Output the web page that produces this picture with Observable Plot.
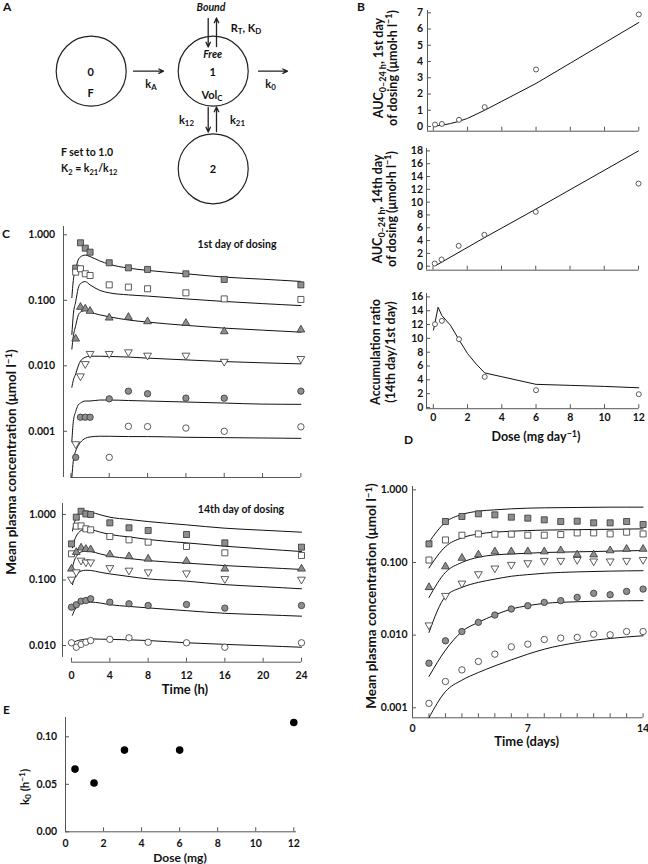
<!DOCTYPE html>
<html><head><meta charset="utf-8">
<script src="https://cdn.jsdelivr.net/npm/d3@7"></script>
<script src="https://cdn.jsdelivr.net/npm/@observablehq/plot@0.6"></script>
<style>
body{margin:0;background:#fff;}
#fig{position:relative;width:648px;height:864px;overflow:hidden;font-family:Lato,"Open Sans",sans-serif;font-weight:700;color:#111;background:#fff;}
.lbl{position:absolute;white-space:nowrap;line-height:1;}
.panel{position:absolute;}
.lbl sub{font-size:72%;position:relative;top:0.3em;vertical-align:baseline;line-height:0;}
.lbl sup{font-size:72%;position:relative;top:-0.45em;vertical-align:baseline;line-height:0;}
</style></head><body><div id="fig"></div><script>
// ---------------- DATA ----------------
// Panel A: compartment diagram
const diagramNodes = [{id:"0", x:90.7, y:70.7}, {id:"1", x:212.7, y:70.7}, {id:"2", x:212.7, y:168.3}];
const diagramArrows = [
  {x1:133, y1:70.7, x2:163, y2:70.7},
  {x1:258, y1:70.7, x2:287, y2:70.7},
  {x1:207.7, y1:18, x2:207.7, y2:46.5},
  {x1:216, y1:46, x2:216, y2:17.5},
  {x1:207.7, y1:107, x2:207.7, y2:131.5},
  {x1:216, y1:131, x2:216, y2:106.5}
];
// Panel B
const doseB = [0.1, 0.5, 1.5, 3, 6, 12];
const auc1 = [0.12, 0.16, 0.41, 1.19, 3.51, 6.9];
const auc14 = [0.42, 1.04, 3.18, 4.9, 8.48, 12.9];
const accRatio = [12.05, 12.53, 9.88, 4.43, 2.5, 1.92];
const fitDoseAuc1 = [0.05, 0.5, 1, 1.5, 2, 3, 4, 5, 6, 8, 10, 12];
const fitAuc1 = [0.02, 0.08, 0.18, 0.32, 0.5, 1.0, 1.55, 2.1, 2.65, 3.9, 5.15, 6.4];
const fitDoseAuc14 = [0.2, 3, 6, 12];
const fitAuc14 = [0.16, 4.45, 8.9, 18.0];
const fitDoseRatio = [0.01, 0.28, 0.5, 1, 1.5, 2, 2.5, 3, 4, 5, 6, 8, 10, 12];
const fitRatio = [11.2, 14.5, 13.3, 11.9, 9.8, 7.8, 6.3, 5.0, 4.45, 3.9, 3.35, 3.2, 3.05, 2.85];
// Panel C (six dose groups: 12, 6, 3, 1.5, 0.5, 0.1 mg)
const groups = ["12 mg", "6 mg", "3 mg", "1.5 mg", "0.5 mg", "0.1 mg"];
const tDay1 = [0.5, 1, 1.5, 2, 4, 6, 8, 12, 16, 24];
const tDay14 = [0, 0.5, 1, 1.5, 2, 4, 6, 8, 12, 16, 24];
const tFit = [0.1, 0.25, 0.5, 0.75, 1, 1.5, 2, 3, 4, 6, 8, 12, 16, 20, 24];
const obsDay1 = [
  [0.31, 0.755, 0.625, 0.543, 0.374, 0.313, 0.296, 0.254, 0.208, 0.172],
  [0.269, 0.303, 0.254, 0.239, 0.172, 0.159, 0.150, 0.130, 0.105, 0.103],
  [0.0258, 0.0787, 0.0742, 0.0684, 0.054, 0.0553, 0.0475, 0.0448, 0.0334, 0.0355],
  [0.00064, 0.00695, 0.0107, 0.0153, 0.0153, 0.0162, 0.0144, 0.0144, 0.0116, 0.0128],
  [0.0004, 0.00164, 0.00164, 0.00164, 0.00313, 0.0041, 0.00374, 0.00321, 0.0032, 0.0041],
  [null, null, null, null, 0.0004, 0.00119, 0.00118, 0.00112, 0.0010, 0.00117]
];
const fitDay1 = [
  [0.11, 0.2, 0.30, 0.41, 0.46, 0.49, 0.465, 0.40, 0.355, 0.31, 0.286, 0.254, 0.226, 0.21, 0.194],
  [0.03, 0.06, 0.095, 0.15, 0.18, 0.193, 0.172, 0.142, 0.13, 0.121, 0.116, 0.105, 0.096, 0.089, 0.083],
  [0.018, 0.028, 0.041, 0.058, 0.066, 0.07, 0.066, 0.06, 0.056, 0.05, 0.0465, 0.0414, 0.0376, 0.035, 0.0326],
  [0.0047, 0.006, 0.0075, 0.0098, 0.0118, 0.0135, 0.014, 0.014, 0.0139, 0.0136, 0.0131, 0.0123, 0.0116, 0.0111, 0.0107],
  [0.0007, 0.0014, 0.002, 0.0025, 0.0027, 0.0029, 0.0029, 0.003, 0.003, 0.00295, 0.0029, 0.0028, 0.0027, 0.0026, 0.00258],
  [0.0002, 0.00035, 0.0005, 0.0006, 0.00068, 0.00078, 0.00082, 0.00084, 0.00084, 0.00083, 0.00083, 0.00081, 0.0008, 0.00079, 0.00078]
];
const obsDay14 = [
  [0.356, 0.91, 1.12, 1.02, 1.0, 0.746, 0.626, 0.57, 0.495, 0.369, 0.317],
  [0.251, 0.664, 0.671, 0.604, 0.583, 0.461, 0.41, 0.378, 0.325, 0.26, 0.237],
  [0.148, 0.266, 0.31, 0.296, 0.292, 0.245, 0.229, 0.21, 0.194, 0.148, 0.148],
  [0.102, 0.132, 0.199, 0.187, 0.187, 0.153, 0.14, 0.132, 0.127, 0.104, 0.102],
  [0.0385, 0.0418, 0.0475, 0.0486, 0.0516, 0.0459, 0.0433, 0.0408, 0.0423, 0.0372, 0.0408],
  [0.011, 0.0094, 0.0104, 0.0112, 0.0119, 0.0124, 0.0131, 0.0112, 0.011, 0.0094, 0.011]
];
const fitDay14 = [
  [0.56, 0.7, 0.9, 1.03, 1.1, 1.13, 1.09, 0.99, 0.91, 0.84, 0.78, 0.695, 0.618, 0.575, 0.537],
  [0.31, 0.38, 0.47, 0.53, 0.57, 0.6, 0.59, 0.537, 0.495, 0.455, 0.415, 0.369, 0.328, 0.298, 0.272],
  [0.155, 0.19, 0.228, 0.255, 0.268, 0.276, 0.272, 0.25, 0.231, 0.213, 0.198, 0.181, 0.166, 0.155, 0.145],
  [0.085, 0.1, 0.118, 0.13, 0.137, 0.141, 0.14, 0.131, 0.124, 0.113, 0.104, 0.096, 0.085, 0.079, 0.0734],
  [0.029, 0.033, 0.0385, 0.042, 0.044, 0.0455, 0.046, 0.0445, 0.042, 0.0395, 0.0375, 0.034, 0.031, 0.0295, 0.028],
  [0.0108, 0.0112, 0.0117, 0.012, 0.0122, 0.0125, 0.0126, 0.0125, 0.0124, 0.0122, 0.0119, 0.011, 0.0104, 0.0099, 0.0094]
];
// Panel D (days 1..14)
const days = [1, 2, 3, 4, 5, 6, 7, 8, 9, 10, 11, 12, 13, 14];
const daysFit = [1, 2, 3, 4, 5, 6, 7, 8, 10, 12, 14];
const obsDaily = [
  [0.18, 0.366, 0.429, 0.467, 0.452, 0.42, 0.407, 0.386, 0.366, 0.37, 0.351, 0.351, 0.366, 0.333],
  [0.108, 0.204, 0.237, 0.247, 0.245, 0.245, 0.237, 0.237, 0.242, 0.255, 0.255, 0.247, 0.261, 0.247],
  [0.0454, 0.0877, 0.115, 0.128, 0.141, 0.141, 0.141, 0.141, 0.146, 0.128, 0.128, 0.146, 0.153, 0.153],
  [0.0137, 0.0349, 0.0516, 0.0694, 0.0832, 0.0933, 0.0984, 0.106, 0.106, 0.109, 0.104, 0.104, 0.106, 0.109],
  [0.00411, 0.00835, 0.0112, 0.015, 0.0189, 0.0229, 0.0254, 0.0282, 0.0298, 0.0331, 0.0376, 0.036, 0.04, 0.043],
  [0.00115, 0.0023, 0.00332, 0.00434, 0.00547, 0.0069, 0.0075, 0.0087, 0.0091, 0.0093, 0.0103, 0.0101, 0.0112, 0.0112]
];
const fitDaily = [
  [0.19, 0.358, 0.457, 0.508, 0.53, 0.547, 0.559, 0.565, 0.571, 0.577, 0.577],
  [0.084, 0.165, 0.218, 0.247, 0.261, 0.269, 0.275, 0.279, 0.283, 0.286, 0.29],
  [0.033, 0.073, 0.1, 0.118, 0.127, 0.131, 0.134, 0.137, 0.140, 0.143, 0.146],
  [0.0109, 0.034, 0.0454, 0.0532, 0.059, 0.0646, 0.068, 0.071, 0.0742, 0.076, 0.077],
  [0.0027, 0.0062, 0.0112, 0.015, 0.0189, 0.0229, 0.0254, 0.0273, 0.0288, 0.0295, 0.0298],
  [0.00073, 0.00167, 0.0024, 0.00306, 0.00377, 0.00457, 0.00547, 0.0064, 0.0079, 0.009, 0.0098]
];
// Panel E
const doseE = [0.5, 1.5, 3.1, 6, 12];
const k0 = [0.066, 0.0513, 0.086, 0.086, 0.115];
// tick labels
const concTicks = [1, 0.1, 0.01, 0.001];
const hourTicks = [0, 4, 8, 12, 16, 20, 24];
const doseTicks = [0, 2, 4, 6, 8, 10, 12];

// ---------------- STYLE / LAYOUT ----------------
const GREY = "#8e8e8e", INK = "#111", AXIS = "#555";
const invTriangle = {draw(ctx, size) {
  const y = Math.sqrt(size / (3 * Math.sqrt(3)));
  ctx.moveTo(0, 2 * y); ctx.lineTo(Math.sqrt(3) * y, -y); ctx.lineTo(-Math.sqrt(3) * y, -y); ctx.closePath();
}};
const markerStyles = [
  {symbol: "square", fill: GREY, r: 3.4},
  {symbol: "square", fill: "white", r: 3.4},
  {symbol: "triangle", fill: GREY, r: 2.9},
  {symbol: invTriangle, fill: "white", r: 2.9},
  {symbol: "circle", fill: GREY, r: 3.2},
  {symbol: "circle", fill: "white", r: 3.2}
];
const fig = document.getElementById("fig");
const SVGSTYLE = "font-family:Lato,'Open Sans',sans-serif;font-weight:700;font-size:10.5px;overflow:visible;background:transparent;color:#111";

function place(svg, left, top, w) {
  const d = document.createElement("div");
  d.className = "panel"; d.style.left = left + "px"; d.style.top = top + "px"; d.style.width = w + "px";
  d.appendChild(svg); fig.appendChild(d);
}
function label(html, x, y, o = {}) {
  const d = document.createElement("div");
  d.className = "lbl"; d.innerHTML = html;
  d.style.left = x + "px"; d.style.top = y + "px";
  d.style.fontSize = (o.size || 10.5) + "px";
  if (o.italic) d.style.fontStyle = "italic";
  if (o.lh) { d.style.lineHeight = o.lh + "px"; d.style.textAlign = "center"; }
  const ax = o.anchor === "start" ? "0%" : o.anchor === "end" ? "-100%" : "-50%";
  d.style.transform = `translate(${ax},-50%)` + (o.rotate ? ` rotate(${o.rotate}deg)` : "");
  fig.appendChild(d);
}
function dom(v0, p0, v1, p1, pa, pb, log) {
  const f = log ? Math.log10 : v => v, g = log ? v => Math.pow(10, v) : v => v;
  const a = f(v0), b = f(v1), k = (b - a) / (p1 - p0);
  return [g(a + (pa - p0) * k), g(a + (pb - p0) * k)];
}
function makePlot(L, marksFn) {
  const ml = 50, mr = 14, mt = 14, mb = 26;
  const xd = dom(L.x[0], L.x[1], L.x[2], L.x[3], L.left, L.right, false);
  const yd = dom(L.y[0], L.y[1], L.y[2], L.y[3], L.bottom, L.top, L.ylog);
  const w = L.right - L.left + ml + mr;
  const svg = Plot.plot({
    width: w, height: L.bottom - L.top + mt + mb,
    marginLeft: ml, marginRight: mr, marginTop: mt, marginBottom: mb,
    x: {type: "linear", domain: xd},
    y: {type: L.ylog ? "log" : "linear", domain: yd},
    style: SVGSTYLE,
    marks: marksFn(xd, yd)
  });
  place(svg, L.left - ml, L.top - mt, w);
}
const rows = (xs, ys) => xs.map((x, i) => ({x, y: ys[i]})).filter(d => d.y != null);
const fitLine = (data, curve = "monotone-x") => Plot.line(data, {x: "x", y: "y", stroke: INK, strokeWidth: 1, curve});
function seriesMarks(xsObs, obs, xsFit, fit) {
  const m = [];
  fit.forEach(f => m.push(fitLine(rows(xsFit, f))));
  obs.forEach((o, i) => {
    const s = markerStyles[i];
    m.push(Plot.dot(rows(xsObs, o), {x: "x", y: "y", symbol: s.symbol, r: s.r, fill: s.fill, stroke: "#333", strokeWidth: 0.8}));
  });
  return m;
}
const yAxis = (ticks, pad, fmt) => Plot.axisY(ticks, {anchor: "left", tickSize: -4, tickPadding: pad, tickFormat: fmt, stroke: AXIS, fill: INK, label: null, fontSize: 10.5});
const xAxis = (ticks, pad, fmt) => Plot.axisX(ticks, {anchor: "bottom", tickSize: -4, tickPadding: pad, tickFormat: fmt, stroke: AXIS, fill: INK, label: null, fontSize: 10.5});
const blank = () => "";

// ---------------- PANEL A ----------------
{
  const svg = Plot.plot({
    width: 330, height: 232, margin: 0,
    x: {domain: [0, 330], range: [0, 330], axis: null},
    y: {domain: [0, 232], range: [0, 232], axis: null},
    style: SVGSTYLE,
    marks: [
      Plot.dot(diagramNodes, {x: "x", y: "y", r: 35, stroke: "#222", strokeWidth: 1.2, fill: "none"}),
      Plot.arrow(diagramArrows, {x1: "x1", y1: "y1", x2: "x2", y2: "y2", stroke: "#222", strokeWidth: 1.3, headLength: 6, headAngle: 50})
    ]
  });
  place(svg, 0, 0, 330);
  label("A", 3, 7, {anchor: "start", size: 12});
  label("0", 90.7, 70.5, {size: 11});
  label("F", 90.7, 92, {size: 11});
  label("k<sub>A</sub>", 151, 83, {size: 11});
  label("Bound", 211, 6.5, {size: 10.5, italic: true});
  label("R<sub>T</sub>, K<sub>D</sub>", 246, 26.5, {size: 11});
  label("Free", 212.7, 53.5, {size: 10.5, italic: true});
  label("1", 212.7, 70.7, {size: 11});
  label("Vol<sub>C</sub>", 212, 93.5, {size: 11});
  label("k<sub>0</sub>", 270.5, 83, {size: 11});
  label("k<sub>12</sub>", 186.5, 118.5, {size: 11});
  label("k<sub>21</sub>", 237.5, 118.5, {size: 11});
  label("2", 213, 168.3, {size: 11});
  label("F set to 1.0", 61, 151.7, {anchor: "start", size: 10.5});
  label("K<sub>2</sub> = k<sub>21</sub>/k<sub>12</sub>", 61, 168.3, {anchor: "start", size: 10.5});
}

// ---------------- PANEL B ----------------
makePlot({left: 426.7, right: 638.3, top: 10, bottom: 130.7, x: [0, 432.5, 12, 638], y: [0, 126, 7, 12.3]}, (xd, yd) => [
  Plot.ruleX([xd[0]], {stroke: AXIS}), Plot.ruleY([yd[0]], {stroke: AXIS}),
  yAxis([0, 1, 2, 3, 4, 5, 6, 7], 8.4), xAxis(doseTicks, 8, blank),
  fitLine(rows(fitDoseAuc1, fitAuc1), "linear"),
  Plot.dot(rows(doseB, auc1), {x: "x", y: "y", r: 2.5, fill: "white", stroke: "#333", strokeWidth: 0.8})
]);
makePlot({left: 426, right: 638.3, top: 148.3, bottom: 270, x: [0, 432.5, 12, 638], y: [0, 266, 18, 150.7]}, (xd, yd) => [
  Plot.ruleX([xd[0]], {stroke: AXIS}), Plot.ruleY([yd[0]], {stroke: AXIS}),
  yAxis(d3.range(0, 19, 2), 7.5), xAxis(doseTicks, 8, blank),
  fitLine(rows(fitDoseAuc14, fitAuc14), "linear"),
  Plot.dot(rows(doseB, auc14), {x: "x", y: "y", r: 2.5, fill: "white", stroke: "#333", strokeWidth: 0.8})
]);
makePlot({left: 425.7, right: 638.3, top: 293.3, bottom: 408.5, x: [0, 432.5, 12, 638], y: [0, 407.3, 16, 296.7]}, (xd, yd) => [
  Plot.ruleX([xd[0]], {stroke: AXIS}), Plot.ruleY([yd[0]], {stroke: AXIS}),
  yAxis(d3.range(0, 17, 2), 7.2), xAxis(doseTicks, 8.5),
  fitLine(rows(fitDoseRatio, fitRatio), "linear"),
  Plot.dot(rows(doseB, accRatio), {x: "x", y: "y", r: 2.5, fill: "white", stroke: "#333", strokeWidth: 0.8})
]);
label("B", 357, 6.5, {anchor: "start", size: 12});
label("AUC<sub>0–24 h</sub>, 1st day<br>of dosing (μmol·h l<sup>−1</sup>)", 385, 68, {rotate: -90, size: 12.5, lh: 13.5});
label("AUC<sub>0–24 h</sub>, 14th day<br>of dosing (μmol·h l<sup>−1</sup>)", 384, 208.5, {rotate: -90, size: 12.5, lh: 13.5});
label("Accumulation ratio<br>(14th day/1st day)", 382.5, 351.5, {rotate: -90, size: 12.5, lh: 14.5});
label("Dose (mg day<sup>−1</sup>)", 536, 437, {size: 12.5});

// ---------------- PANEL C ----------------
makePlot({left: 63.3, right: 300.7, top: 226, bottom: 477, x: [0, 70.7, 24, 300.7], y: [1, 234.3, 0.001, 430.8], ylog: true}, (xd, yd) => [
  Plot.ruleX([xd[0]], {stroke: AXIS}), Plot.ruleY([yd[0]], {x1: 0, x2: 24, stroke: AXIS}),
  yAxis(concTicks, 12.3, d3.format(".3f")), xAxis(hourTicks, 8, blank),
  ...seriesMarks(tDay1, obsDay1, tFit, fitDay1)
]);
makePlot({left: 61.7, right: 300.7, top: 503, bottom: 661.7, x: [0, 70.7, 24, 300.7], y: [1, 514, 0.01, 645], ylog: true}, (xd, yd) => [
  Plot.ruleX([xd[0]], {y1: Math.pow(10, -2.183), y2: yd[1], stroke: AXIS}), Plot.ruleY([yd[0]], {x1: 0, x2: 24, stroke: AXIS}),
  yAxis([1, 0.1, 0.01], 10.7, d3.format(".3f")), xAxis(hourTicks, 13.6),
  ...seriesMarks(tDay14, obsDay14, tFit, fitDay14)
]);
label("C", 2, 233.5, {anchor: "start", size: 12});
label("1st day of dosing", 237, 244, {size: 10.5});
label("14th day of dosing", 241, 509.3, {size: 10.5});
label("Mean plasma concentration (μmol l<sup>−1</sup>)", 12, 462, {rotate: -90, size: 13.5});
label("Time (h)", 185, 689.3, {size: 13});

// ---------------- PANEL D ----------------
makePlot({left: 411.7, right: 642.3, top: 486, bottom: 717.3, x: [0, 411.7, 14, 642.3], y: [1, 489.3, 0.001, 707.3], ylog: true}, (xd, yd) => [
  Plot.ruleX([xd[0]], {stroke: AXIS}), Plot.ruleY([yd[0]], {stroke: AXIS}),
  yAxis(concTicks, 9, d3.format(".3f")), xAxis(d3.range(0, 15), 10.3, d => d % 7 === 0 ? String(d) : ""),
  ...seriesMarks(days, obsDaily, daysFit, fitDaily)
]);
label("D", 404, 440, {anchor: "start", size: 12});
label("Mean plasma concentration (μmol l<sup>−1</sup>)", 372, 596, {rotate: -90, size: 13.5});
label("Time (days)", 526.7, 740.7, {size: 13});

// ---------------- PANEL E ----------------
makePlot({left: 65, right: 296, top: 716.7, bottom: 831, x: [0, 65, 12, 293.3], y: [0, 831, 0.1, 736]}, (xd, yd) => [
  Plot.ruleX([xd[0]], {stroke: AXIS}), Plot.ruleY([yd[0]], {stroke: AXIS}),
  yAxis([0, 0.05, 0.1], 12.3, d3.format(".2f")), xAxis(doseTicks, 11.5),
  Plot.dot(rows(doseE, k0), {x: "x", y: "y", r: 3.8, fill: "#000"})
]);
label("E", 3, 710, {anchor: "start", size: 12});
label("k<sub>0</sub> (h<sup>−1</sup>)", 25, 787, {rotate: -90, size: 11.5});
label("Dose (mg)", 180, 857.5, {size: 12});
</script></body></html>
